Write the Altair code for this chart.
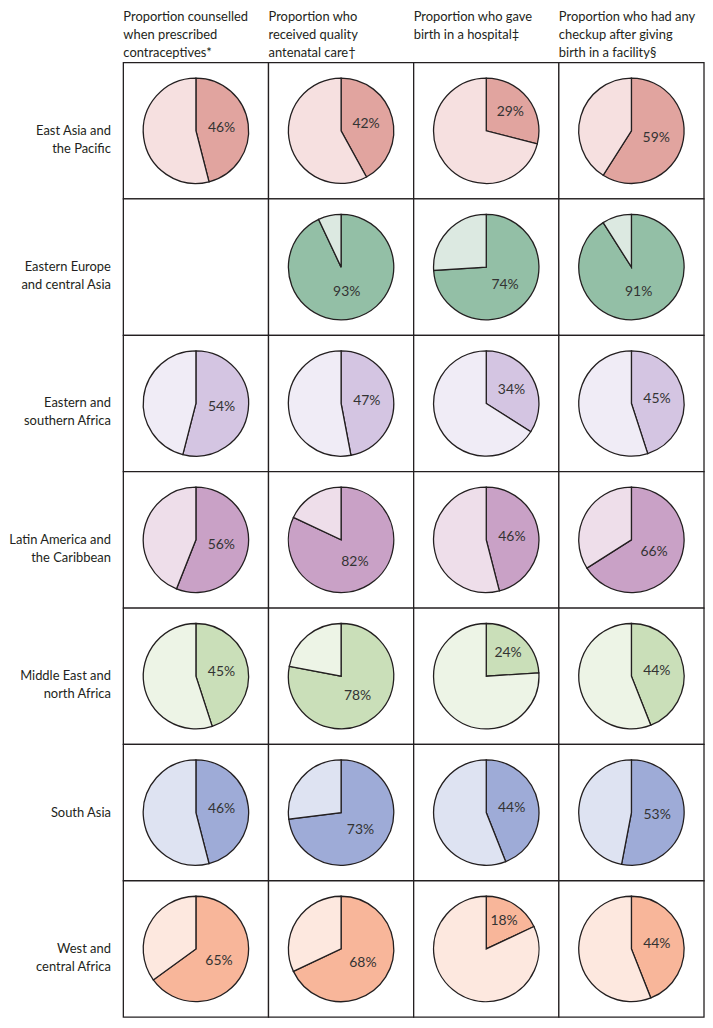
import altair as alt
import pandas as pd

regions = [
    "East Asia and\nthe Pacific",
    "Eastern Europe\nand central Asia",
    "Eastern and\nsouthern Africa",
    "Latin America and\nthe Caribbean",
    "Middle East and\nnorth Africa",
    "South Asia",
    "West and\ncentral Africa",
]
measures = [
    "Proportion counselled\nwhen prescribed\ncontraceptives*",
    "Proportion who\nreceived quality\nantenatal care\u2020",
    "Proportion who gave\nbirth in a hospital\u2021",
    "Proportion who had any\ncheckup after giving\nbirth in a facility\u00a7",
]
# values per region, one per measure (None = no data)
east_asia = [46, 42, 29, 59]
eastern_europe = [None, 93, 74, 91]
eastern_southern_africa = [54, 47, 34, 45]
latin_america = [56, 82, 46, 66]
middle_east = [45, 78, 24, 44]
south_asia = [46, 73, 44, 53]
west_central_africa = [65, 68, 18, 44]
values = [east_asia, eastern_europe, eastern_southern_africa, latin_america,
          middle_east, south_asia, west_central_africa]

dark_colors = ["#E1A49F", "#93BFA6", "#D4C5E2", "#C9A1C6", "#CADFB9", "#9EABD7", "#F8B69A"]
light_colors = ["#F6E0E0", "#DCE9E1", "#F0ECF6", "#EEDEEA", "#EDF4E6", "#DEE3F2", "#FDE8DF"]

rows = []
cells = []
for r, vals in zip(regions, values):
    for m, v in zip(measures, vals):
        cells.append({"region": r, "measure": m})
        if v is None:
            continue
        rows.append({"region": r, "measure": m, "part": "dark", "value": v,
                     "key": r + "|dark", "label": f"{v}%"})
        rows.append({"region": r, "measure": m, "part": "light", "value": v,
                     "key": r + "|light", "label": ""})
df = pd.DataFrame(rows)
cells_df = pd.DataFrame(cells)

keys = [r + "|dark" for r in regions] + [r + "|light" for r in regions]
key_colors = dark_colors + light_colors

FONT = "Lato"
R = 53
W, H = 584, 960
LINE = "#231f20"

xs = alt.Scale(domain=measures, paddingInner=0, paddingOuter=0)
ys = alt.Scale(domain=regions, paddingInner=0, paddingOuter=0)
theta_scale = alt.Scale(domain=[0, 100], range=[0, 6.283185307179586])

x_axis = alt.Axis(
    orient="top", title=None, ticks=False, domain=False, labelAngle=0,
    labelAlign="left", labelBaseline="top", labelOffset=-W / 8,
    labelPadding=52, labelFont=FONT, labelFontSize=13, labelLineHeight=18,
    labelColor=LINE, labelExpr="split(datum.value, '\\n')", labelLimit=200,
)
y_axis = alt.Axis(
    title=None, ticks=False, domain=False, labelAlign="right",
    labelBaseline="middle", labelPadding=13, labelFont=FONT, labelFontSize=13,
    labelLineHeight=18, labelColor=LINE, labelExpr="split(datum.value, '\\n')",
    labelLimit=200,
)

grid = alt.Chart(cells_df).mark_rect(fill="white", stroke=LINE, strokeWidth=1.3).encode(
    x=alt.X("measure:N", scale=xs, axis=x_axis, sort=measures),
    y=alt.Y("region:N", scale=ys, axis=y_axis, sort=regions),
)

base = alt.Chart(df).transform_calculate(
    start="datum.part == 'dark' ? 0 : datum.value",
    end="datum.part == 'dark' ? datum.value : 100",
    mid="datum.value / 2",
    lr="max(26, 2*%d*sin(datum.value/100*PI)/(3*datum.value/100*PI))" % R,
)
pos_x = alt.X("measure:N", scale=xs, sort=measures, bandPosition=0.5)
pos_y = alt.Y("region:N", scale=ys, sort=regions, bandPosition=0.5)

arcs = base.mark_arc(outerRadius=R, stroke=LINE, strokeWidth=1.3).encode(
    x=pos_x, y=pos_y,
    theta=alt.Theta("start:Q", scale=theta_scale),
    theta2="end:Q",
    color=alt.Color("key:N", scale=alt.Scale(domain=keys, range=key_colors), legend=None),
)
texts = base.transform_filter("datum.part == 'dark'").mark_text(
    font=FONT, fontSize=14, color="#333333"
).encode(
    x=pos_x, y=pos_y,
    theta=alt.Theta("mid:Q", scale=theta_scale),
    radius=alt.Radius("lr:Q", scale=None),
    text="label:N",
)

chart = alt.layer(grid, arcs, texts).properties(
    width=W, height=H,
    padding={"left": 0, "top": 0, "right": 0, "bottom": 0},
).configure_view(stroke=None)

chart.save("out.html", embed_options={"renderer": "svg", "actions": False})
